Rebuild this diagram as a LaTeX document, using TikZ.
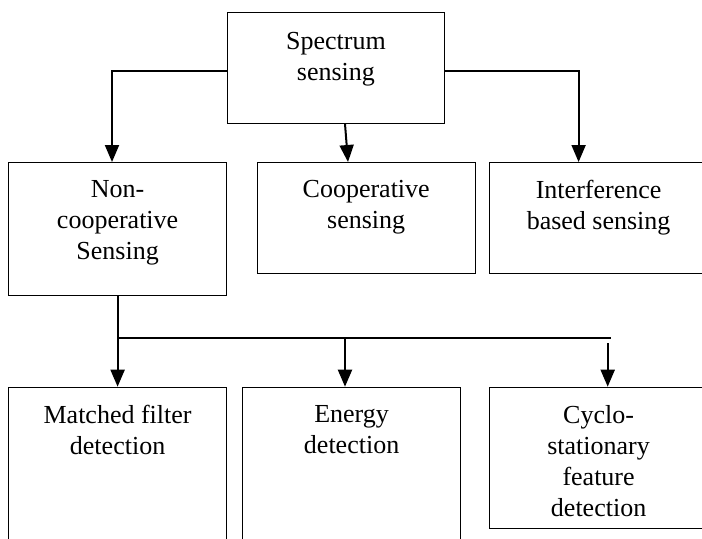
\documentclass[tikz,border=0pt]{standalone}
\usepackage{fontspec}
\setmainfont{Liberation Serif}
\usetikzlibrary{arrows.meta,positioning}

\begin{document}
\begin{tikzpicture}[x=0.5pt,y=-0.5pt,
    node distance=9pt,
    box/.style={rectangle,draw,line width=0.6pt,anchor=north west,inner sep=0pt},
    txt/.style={align=center,inner sep=0pt,font=\fontsize{13}{15.5}\selectfont},
    ln/.style={line width=1pt},
    ar/.style={ln,-{Triangle[length=8.5pt,width=7pt]}}]
  \clip (0,0) rectangle (702,538);
  % boxes
  \node[box,minimum width=108.7pt,minimum height=55.5pt](spec) at (226.6,11.7){};
  \node[box,minimum width=109pt,minimum height=66.6pt](nonc) at (8,162){};
  \node[box,minimum width=109pt,minimum height=55.4pt](coop) at (256.6,162){};
  \node[box,minimum width=109pt,minimum height=55.4pt](intf) at (489,162){};
  \node[box,minimum width=109pt,minimum height=86.5pt](mf) at (8,386.7){};
  \node[box,minimum width=109pt,minimum height=86.5pt](en) at (242,386.7){};
  \node[box,minimum width=109pt,minimum height=70.5pt](cyc) at (489,386.7){};
  % texts
  \node[txt,below=10pt of spec.north](spec-t){Spectrum\\sensing};
  \node[txt,below=of nonc.north](nonc-t){Non-\\cooperative\\Sensing};
  \node[txt,below=of coop.north](coop-t){Cooperative\\sensing};
  \node[txt,below=of intf.north](intf-t){Interference\\based sensing};
  \node[txt,below=of mf.north](mf-t){Matched filter\\detection};
  \node[txt,below=of en.north](en-t){Energy\\detection};
  \node[txt,below=of cyc.north](cyc-t){Cyclo-\\stationary\\feature\\detection};
  % connectors
  \coordinate (jl) at (112,70.7);
  \coordinate (jr) at (578.6,70.7);
  \coordinate (mt) at (345,0);
  \coordinate (mb) at (348,0);
  \draw[ar](spec.west |- jl)--(jl)--(jl |- nonc.north);
  \draw[ar](spec.east |- jr)--(jr)--(jr |- intf.north);
  \draw[ar](spec.south -| mt)--(coop.north -| mb);
  \coordinate (b1) at (117,337.7);
  \coordinate (b2) at (345,337.7);
  \coordinate (b3) at (607.7,343.3);
  \coordinate (bus) at (611,337.7);
  \draw[ar](nonc.south)--(nonc.south |- mf.north);
  \draw[ln](b1)--(bus);
  \draw[ar](b2)--(b2 |- en.north);
  \draw[ar](b3)--(b3 |- cyc.north);
\end{tikzpicture}
\end{document}
